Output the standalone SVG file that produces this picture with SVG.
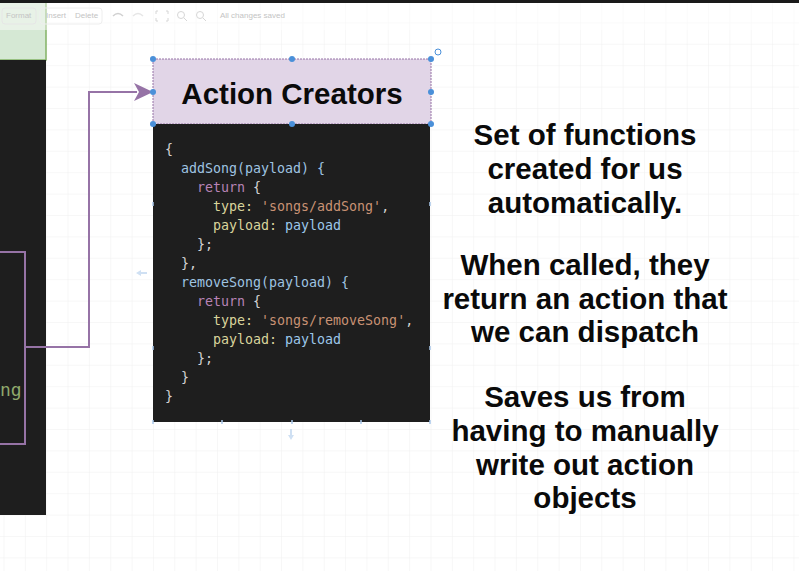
<svg xmlns="http://www.w3.org/2000/svg" width="799" height="571" viewBox="0 0 799 571">
<defs>
<pattern id="grid" x="3.5" y="1" width="21.35" height="21.4" patternUnits="userSpaceOnUse">
<path d="M0,0 H21.35 M0,0 V21.4" fill="none" stroke="#efefef" stroke-width="1"/>
</pattern>
<style>
.code{font-family:"DejaVu Sans Mono","Liberation Mono",monospace;font-size:13.3px}
.p{fill:#d4d4d4}.f{fill:#9fc4e2}.k{fill:#b883b6}.y{fill:#d9d49c}.s{fill:#c99274}.v{fill:#9cc7ea}
.big{font-family:"Liberation Sans",Arial,sans-serif;font-weight:bold;font-size:29.5px;fill:#0a0a0a;text-anchor:middle}
.tb{font-family:"Liberation Sans",Arial,sans-serif;font-size:8px;fill:#c4c4c4}
.h{fill:#4a90d9}
.tick{stroke:#a9c8ea;stroke-width:1.5}
</style>
</defs>
<rect width="799" height="571" fill="#ffffff"/>
<rect width="799" height="571" fill="url(#grid)"/>

<g id="left-green">
<rect x="-2" y="-2" width="48" height="62" fill="#d5e8d4" stroke="#82b366" stroke-width="1.5"/>
</g>
<g id="left-dark">
<rect x="0" y="60" width="46" height="455" fill="#1e1e1e"/>
<rect x="-2" y="252" width="27" height="192" fill="none" stroke="#9673a6" stroke-width="2"/>
<text x="0" y="396" font-family="DejaVu Sans Mono,monospace" font-size="18" fill="#8fa86c">ng</text>
</g>

<g id="connectors">
<path d="M25,347 H89 V92 H137" fill="none" stroke="#9673a6" stroke-width="2"/>
<path d="M153,92 L134,83 L139,92 L134,101 Z" fill="#9673a6"/>
</g>

<g id="action-creators">
<rect x="153" y="59" width="278" height="65" fill="#e1d5e7" stroke="#9673a6" stroke-width="1" stroke-dasharray="2 1"/>
<text class="big" x="292" y="104">Action Creators</text>
</g>

<g id="code">
<rect x="153" y="124" width="277" height="298" fill="#1e1e1e"/>
<text class="code"><tspan class="p" x="165" y="154">{</tspan></text>
<text class="code"><tspan class="f" x="181" y="173">addSong(payload) {</tspan></text>
<text class="code"><tspan class="k" x="197" y="192">return</tspan><tspan class="p"> {</tspan></text>
<text class="code" xml:space="preserve"><tspan class="y" x="213" y="211">type:</tspan><tspan class="s"> 'songs/addSong'</tspan><tspan class="p">,</tspan></text>
<text class="code" xml:space="preserve"><tspan class="y" x="213" y="230">payload:</tspan><tspan class="v"> payload</tspan></text>
<text class="code"><tspan class="p" x="197" y="249">};</tspan></text>
<text class="code"><tspan class="p" x="181" y="268">},</tspan></text>
<text class="code"><tspan class="f" x="181" y="287">removeSong(payload) {</tspan></text>
<text class="code"><tspan class="k" x="197" y="306">return</tspan><tspan class="p"> {</tspan></text>
<text class="code" xml:space="preserve"><tspan class="y" x="213" y="325">type:</tspan><tspan class="s"> 'songs/removeSong'</tspan><tspan class="p">,</tspan></text>
<text class="code" xml:space="preserve"><tspan class="y" x="213" y="344">payload:</tspan><tspan class="v"> payload</tspan></text>
<text class="code"><tspan class="p" x="197" y="363">};</tspan></text>
<text class="code"><tspan class="p" x="181" y="382">}</tspan></text>
<text class="code"><tspan class="p" x="165" y="401">}</tspan></text>
</g>

<g id="selection">
<circle class="h" cx="153" cy="59" r="3"/><circle class="h" cx="292" cy="59" r="3"/><circle class="h" cx="431" cy="59" r="3"/>
<circle class="h" cx="153" cy="92" r="3"/><circle class="h" cx="431" cy="92" r="3"/>
<circle class="h" cx="153" cy="124" r="3"/><circle class="h" cx="292" cy="124" r="3"/><circle class="h" cx="431" cy="124" r="3"/>
<circle cx="438" cy="52" r="3" fill="none" stroke="#4a90d9" stroke-width="1"/>
<path class="tick" d="M153,202 v4 M430,202 v4 M153,346 v4 M430,346 v4 M153,420 v4 M430,420 v4 M222,420 v4 M361,420 v4 M292,420 v4"/>
<path d="M136,273 L141,270 V272 H147 V274 H141 V276 Z" fill="#cfe0f3"/>
<path d="M291,440 L288,435 H290 V429 H292 V435 H294 Z" fill="#cfe0f3"/>
</g>

<g id="notes">
<text class="big" x="585" y="145">Set of functions</text>
<text class="big" x="585" y="179">created for us</text>
<text class="big" x="585" y="213">automatically.</text>
<text class="big" x="585" y="275">When called, they</text>
<text class="big" x="585" y="309">return an action that</text>
<text class="big" x="585" y="342">we can dispatch</text>
<text class="big" x="585" y="407">Saves us from</text>
<text class="big" x="585" y="441">having to manually</text>
<text class="big" x="585" y="475">write out action</text>
<text class="big" x="585" y="508">objects</text>
</g>

<g id="toolbar">
<rect x="0" y="0" width="799" height="3" fill="#1a1a1a"/>
<rect x="0" y="3" width="799" height="27" fill="#ffffff" opacity="0.45"/>
<rect x="2" y="8" width="34" height="16" rx="3" fill="none" stroke="#e6e6e6"/>
<text class="tb" x="6" y="18">Format</text>
<rect x="40" y="8" width="62" height="16" rx="3" fill="none" stroke="#eeeeee"/>
<text class="tb" x="46" y="18">Insert</text>
<text class="tb" x="75" y="18">Delete</text>
<path d="M113,16 q5,-5 10,0" fill="none" stroke="#d0d0d0" stroke-width="1.5"/>
<path d="M133,16 q5,-5 10,0" fill="none" stroke="#e6e6e6" stroke-width="1.5"/>
<path d="M158,11 h-2 v3 M166,11 h2 v3 M158,21 h-2 v-3 M166,21 h2 v-3" fill="none" stroke="#d6d6d6"/>
<circle cx="181" cy="15" r="3.5" fill="none" stroke="#d6d6d6"/><path d="M184,18 l3,3" stroke="#d6d6d6"/>
<circle cx="200" cy="15" r="3.5" fill="none" stroke="#d6d6d6"/><path d="M203,18 l3,3" stroke="#d6d6d6"/>
<text class="tb" x="220" y="18">All changes saved</text>
</g>
</svg>
